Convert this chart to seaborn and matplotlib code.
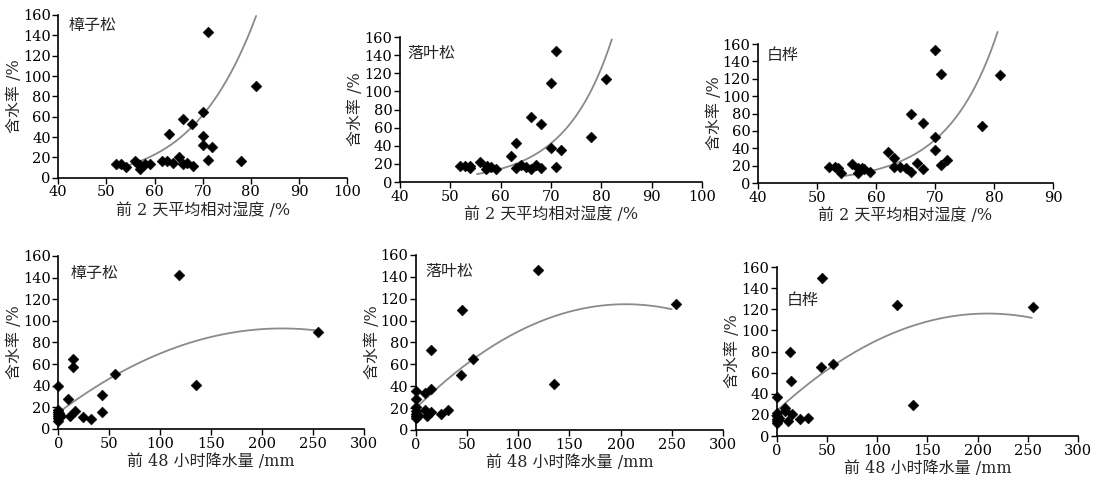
import numpy as np
import pandas as pd
import matplotlib
matplotlib.use("Agg")
import matplotlib.pyplot as plt
import seaborn as sns

# ==============================================================
# DATA
# ==============================================================
species = ["樟子松", "落叶松", "白桦"]

# top row: mean relative humidity of the previous 2 days (%) vs moisture content (%)
rh_zzs = [52, 53, 54, 56, 56.5, 57, 57, 58, 59, 61.5, 62.6, 63, 63.8, 65, 66, 66, 66.8, 67.8, 68,
          70, 70, 70, 71, 71, 72, 78, 81]
mc_rh_zzs = [14, 14, 11, 17, 14, 9, 13, 14, 14, 17, 17, 43, 15, 20, 58, 14, 15, 53, 12,
             65, 41, 32, 18, 143, 30, 17, 90]

rh_lys = [52, 53, 54, 54, 56, 57, 57.3, 58, 59, 62, 63, 63, 64, 65, 66, 66, 67, 68, 68,
          70, 70, 71, 71, 72, 78, 81]
mc_rh_lys = [18, 18, 18, 15, 22, 14, 18, 17, 14, 29, 43, 15, 19, 17, 72, 14, 19, 64, 16,
             109, 37, 145, 17, 35, 50, 114]

rh_bh = [52, 53, 53.5, 54, 56, 57, 57, 57.6, 58, 59, 62, 63, 63, 64, 65, 66, 66, 67, 68, 68,
         70, 70, 70, 71, 71, 72, 78, 81]
mc_rh_bh = [18, 18, 17, 12, 22, 17, 12, 17, 16, 13, 36, 29, 18, 18, 17, 80, 13, 23, 69, 16,
            153, 53, 38, 126, 21, 27, 66, 124]

# bottom row: precipitation of the previous 48 h (mm) vs moisture content (%)
pr_zzs = [0, 0, 0, 0, 0, 0, 0, 1, 2, 2, 10, 11, 14, 14, 16, 24, 32, 43, 43, 56, 119, 135, 255]
mc_pr_zzs = [40, 18, 16, 14, 12, 10, 7, 15, 13, 11, 28, 12, 65, 57, 17, 11, 9, 31, 16, 51,
             142, 41, 90]

pr_lys = [0, 0, 0, 0, 0, 0, 0, 1, 2, 9, 9, 11, 15, 15, 15, 24, 31, 44, 45, 56, 119, 135, 254]
mc_pr_lys = [36, 28, 21, 17, 15, 13, 11, 12, 14, 34, 18, 13, 73, 37, 16, 15, 18, 50, 110, 65,
             146, 42, 115]

pr_bh = [0, 0, 0, 0, 0, 0, 1, 2, 8, 8, 11, 13, 14, 15, 23, 31, 44, 45, 56, 120, 136, 255]
mc_pr_bh = [37, 22, 19, 16, 14, 12, 15, 17, 27, 24, 14, 80, 52, 21, 16, 17, 65, 150, 68,
            124, 29, 122]

# fitted trend lines
# top row: (kind, x_start, x_end, x_ref, y_ref, shape)
rh_fits = [("pow", 52.1, 81.1, 52.1, 9.2, 6.44),
           ("exp", 55.3, 82.1, 63.0, 20.0, 0.108),
           ("exp", 54.8, 80.6, 63.0, 21.8, 0.118)]
# bottom row: quadratic (x_start, x_end, c0, c1, c2)
pr_fits = [(0, 255, 15.0, 0.709, -0.001612),
           (1, 250, 20.0, 0.9266, -0.00226),
           (0, 254, 24.0, 0.876, -0.002086)]

rh_xmax = [100, 100, 90]
y_ticks = np.arange(0, 161, 20)

# ==============================================================
# STYLE
# ==============================================================
sns.set_theme(style="ticks")
plt.rcParams['font.family'] = ['DejaVu Serif', 'Noto Sans CJK SC']
plt.rcParams['axes.unicode_minus'] = False

FS_TICK = 10.5
FS_LABEL = 11.5
CURVE_COLOR = "#8a8a8a"

fig = plt.figure(figsize=(10.94, 4.82), dpi=100)

# axes rectangles in figure fractions (measured on the reference)
top_rects = [[0.0533, 0.631, 0.264, 0.338],
             [0.3656, 0.6224, 0.276, 0.3008],
             [0.6929, 0.6203, 0.2697, 0.2884]]
bot_rects = [[0.0533, 0.110, 0.279, 0.359],
             [0.3803, 0.108, 0.2804, 0.363],
             [0.7102, 0.0954, 0.2751, 0.3506]]
top_title_pos = [(0.035, 0.99), (0.023, 0.945), (0.03, 0.98)]
bot_title_pos = [(0.04, 0.948), (0.03, 0.954), (0.033, 0.852)]


def style_axis(ax):
    sns.despine(ax=ax)
    for side in ["left", "bottom"]:
        ax.spines[side].set_color("black")
        ax.spines[side].set_linewidth(1.2)
    ax.tick_params(direction="out", length=4, width=1, colors="black",
                   labelsize=FS_TICK, pad=1.5)
    ax.set_yticks(y_ticks)
    ax.set_ylim(0, 160)
    ax.set_ylabel("含水率 /%", fontsize=FS_LABEL, labelpad=0)
    ax.grid(False)


# ==============================================================
# TOP ROW: relative humidity
# ==============================================================
rh_sets = [(rh_zzs, mc_rh_zzs), (rh_lys, mc_rh_lys), (rh_bh, mc_rh_bh)]
for i, (xs, ys) in enumerate(rh_sets):
    ax = fig.add_axes(top_rects[i])
    df = pd.DataFrame({"rh": xs, "mc": ys})
    sns.scatterplot(data=df, x="rh", y="mc", marker="D", color="black", s=30,
                    edgecolor="black", linewidth=0.4, ax=ax, clip_on=False, zorder=3)

    kind, x0, x1, xr, yr, k = rh_fits[i]
    xc = np.linspace(x0, x1, 200)
    if kind == "exp":
        yc = yr * np.exp(k * (xc - xr))
    else:
        yc = yr * (xc / xr) ** k
    sns.lineplot(x=xc, y=yc, color=CURVE_COLOR, lw=1.3, ax=ax, sort=False,
                 estimator=None, clip_on=False, zorder=2)

    style_axis(ax)
    ax.set_xlim(40, rh_xmax[i])
    ax.set_xticks(np.arange(40, rh_xmax[i] + 1, 10))
    ax.set_xlabel("前 2 天平均相对湿度 /%", fontsize=FS_LABEL, labelpad=2)
    tx, ty = top_title_pos[i]
    ax.text(tx, ty, species[i], transform=ax.transAxes, fontsize=FS_LABEL,
            ha="left", va="top")

# ==============================================================
# BOTTOM ROW: precipitation
# ==============================================================
pr_sets = [(pr_zzs, mc_pr_zzs), (pr_lys, mc_pr_lys), (pr_bh, mc_pr_bh)]
for i, (xs, ys) in enumerate(pr_sets):
    ax = fig.add_axes(bot_rects[i])
    df = pd.DataFrame({"pr": xs, "mc": ys})
    sns.scatterplot(data=df, x="pr", y="mc", marker="D", color="black", s=30,
                    edgecolor="black", linewidth=0.4, ax=ax, clip_on=False, zorder=3)

    x0, x1, c0, c1, c2 = pr_fits[i]
    xc = np.linspace(x0, x1, 200)
    yc = c0 + c1 * xc + c2 * xc ** 2
    sns.lineplot(x=xc, y=yc, color=CURVE_COLOR, lw=1.3, ax=ax, sort=False,
                 estimator=None, clip_on=False, zorder=2)

    style_axis(ax)
    ax.set_xlim(0, 300)
    ax.set_xticks(np.arange(0, 301, 50))
    ax.set_xlabel("前 48 小时降水量 /mm", fontsize=FS_LABEL, labelpad=2)
    tx, ty = bot_title_pos[i]
    ax.text(tx, ty, species[i], transform=ax.transAxes, fontsize=FS_LABEL,
            ha="left", va="top")

fig.savefig("out.png", dpi=100, facecolor="white")
